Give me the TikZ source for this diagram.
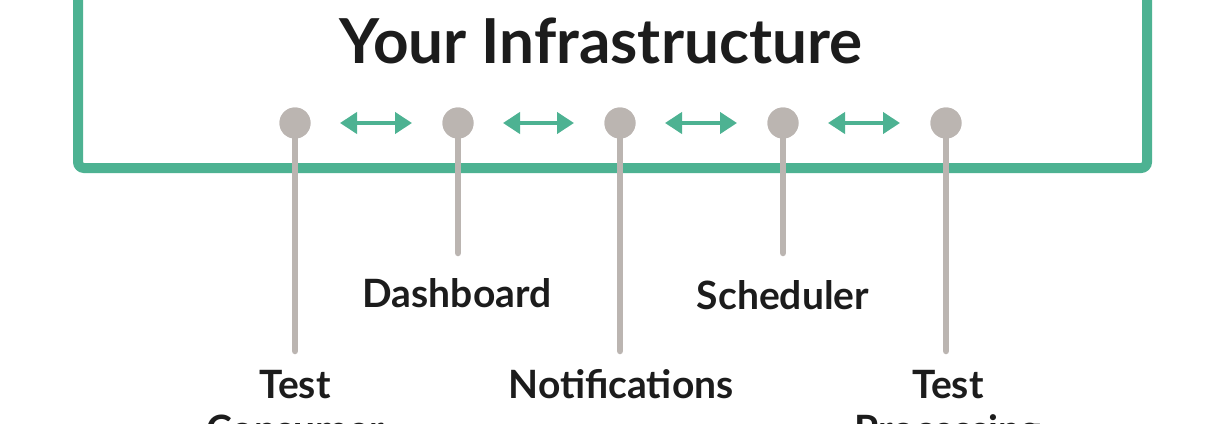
\documentclass[tikz,border=0pt]{standalone}
\usepackage{fontspec}
\setmainfont{Lato}
\usetikzlibrary{arrows.meta}
\definecolor{infragreen}{RGB}{77,178,146}
\definecolor{pingray}{RGB}{187,181,177}
\definecolor{labelink}{RGB}{28,28,28}
\begin{document}
\begin{tikzpicture}[x=1pt,y=-1pt,
  frame/.style={draw=infragreen,line width=10pt,rounded corners=6pt},
  pin/.style={circle,fill=pingray,minimum size=31pt,inner sep=0pt},
  stem/.style={draw=pingray,line width=6.5pt,line cap=round},
  link/.style={draw=infragreen,line width=4pt,
    {Triangle[length=17pt 0,width=21pt 0]}-{Triangle[length=17pt 0,width=21pt 0]},
    shorten <=45pt,shorten >=46pt},
  lbl/.style={font=\fontsize{39}{45}\selectfont\bfseries,text=labelink,inner sep=0pt,align=center,anchor=base},
  title/.style={font=\fontsize{62}{64}\selectfont\bfseries,text=labelink,inner sep=0pt,anchor=base}]
\useasboundingbox (0,0) rectangle (1210,423);
\clip (0,0) rectangle (1210,423);
\fill[white] (0,0) rectangle (1210,423);
% frame
\draw[frame] (78,-30) rectangle (1147,168);
\node[title] (ttl) at (601,63) {Your Infrastructure};
% pins
\node[pin] (c1) at (295,123) {};
\node[pin] (c2) at (458,123) {};
\node[pin] (c3) at (620,123) {};
\node[pin] (c4) at (783,123) {};
\node[pin] (c5) at (946,123) {};
\coordinate (e1) at (295,351);
\coordinate (e2) at (458,253);
\coordinate (e3) at (620,351);
\coordinate (e4) at (783,253);
\coordinate (e5) at (946,351);
\draw[stem] (c1.center) -- (e1);
\draw[stem] (c2.center) -- (e2);
\draw[stem] (c3.center) -- (e3);
\draw[stem] (c4.center) -- (e4);
\draw[stem] (c5.center) -- (e5);
\node[pin] at (c1) {};
\node[pin] at (c2) {};
\node[pin] at (c3) {};
\node[pin] at (c4) {};
\node[pin] at (c5) {};
% links
\draw[link] (c1.center) -- (c2.center);
\draw[link] (c2.center) -- (c3.center);
\draw[link] (c3.center) -- (c4.center);
\draw[link] (c4.center) -- (c5.center);
% labels
\node[lbl] (l1) at (295,443) {Test\\Consumer};
\node[lbl] (l2) at (457,307) {Dashboard};
\node[lbl] (l3) at (621,398) {Notifications};
\node[lbl] (l4) at (783,309) {Scheduler};
\node[lbl] (l5) at (948,443) {Test\\Processing};
\end{tikzpicture}
\end{document}
